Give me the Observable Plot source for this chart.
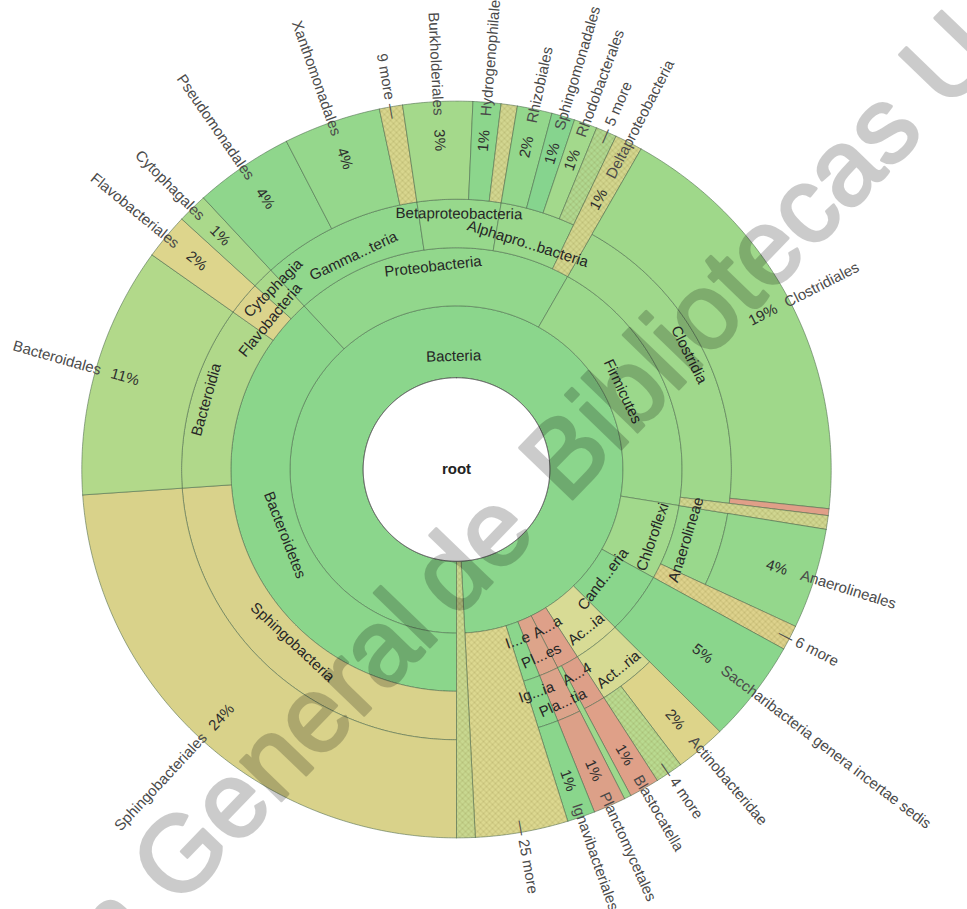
<!DOCTYPE html>
<html>
<head>
<meta charset="utf-8">
<script src="https://cdn.jsdelivr.net/npm/d3@7"></script>
<script src="https://cdn.jsdelivr.net/npm/@observablehq/plot@0.6"></script>
<style>
  html, body { margin: 0; padding: 0; background: #fff; }
  #chart svg { display: block; }
</style>
</head>
<body>
<div id="chart"></div>
<script>
// ---------- Taxonomy data (share of classified reads, %) ----------
// Phylum ring labels, in clockwise order
const phylumLabels = ["Bacteroidetes", "Proteobacteria", "Firmicutes", "Chloroflexi", "Cand...eria",
  "Ac...ia", "A...a", "Pl...es", "I...e"];

// Class ring labels and the phylum each belongs to
const classLabels = ["Sphingobacteria", "Bacteroidia", "Flavobacteria", "Cytophagia", "Gamma...teria",
  "Betaproteobacteria", "Alphapro...bacteria", "Clostridia", "Anaerolineae", "Act...ria", "A...4",
  "Pla...tia", "Ig...ia"];
const classPhylum = [0, 0, 0, 0, 1, 1, 1, 2, 3, 5, 6, 7, 8];

// Outermost wedges (orders, or collapsed groups), clockwise from the bottom
const leafLabels = ["Sphingobacteriales", "Bacteroidales", "Flavobacteriales", "Cytophagales",
  "Pseudomonadales", "Xanthomonadales", "9 more", "",
  "Burkholderiales", "Hydrogenophilales", "",
  "Rhizobiales", "Sphingomonadales", "Rhodobacterales", "5 more",
  "Deltaproteobacteria",
  "Clostridiales", "", "",
  "Anaerolineales", "6 more",
  "Saccharibacteria genera incertae sedis",
  "Actinobacteridae", "4 more",
  "Blastocatella", "",
  "Planctomycetales",
  "Ignavibacteriales",
  "25 more",
  ""];
const leafShares = [23.9, 11.0, 2.0, 1.3,
  4.3, 4.2, 1.0, 0,
  3.0, 1.2, 0.7,
  1.5, 1.0, 1.0, 0.9,
  1.2,
  18.5, 0.3, 0.6,
  4.4, 1.1,
  4.5,
  2.2, 1.2,
  1.3, 0.3,
  1.4,
  1.2,
  4.0,
  0.8];
// class index (-1: none), phylum index (-1: none), ring the wedge starts in
const leafClass = [0, 1, 2, 3, 4, 4, 4, 4, 5, 5, 5, 6, 6, 6, 6, -1, 7, 7, -1, 8, -1, -1, 9, 9, 10, -1, 11, 12, -1, -1];
const leafPhylum = [0, 0, 0, 0, 1, 1, 1, 1, 1, 1, 1, 1, 1, 1, 1, 1, 2, 2, 2, 3, 3, 4, 5, 5, 6, 6, 7, 8, -1, -1];
const leafLevel = [4, 4, 4, 4, 4, 4, 4, 4, 4, 4, 4, 4, 4, 4, 4, 3, 4, 4, 3, 4, 3, 3, 4, 4, 4, 3, 4, 4, 2, 1];

// ---------- Palette ----------
const rootFill = "#ffffff";
const bacteriaFill = "#8bd68c";
const phylumFill = ["#8bd68b", "#92d78c", "#9bd88b", "#a2d98c", "#8ad68c", "#d8db95", "#dea089", "#dda48a", "#8bd68c"];
const classFill = ["#d9d28b", "#b0d88a", "#dbd48c", "#a9d98b", "#90d78c", "#97d88c", "#9ad88c", "#9fd88b",
  "#99d88c", "#d6da93", "#dd9f88", "#dca38a", "#8bd68c"];
const leafFill = ["#d9d28a", "#b2d98a", "#ddd58c", "#aad98b",
  "#8fd68c", "#95d78c", "#d8d68e", "#d8d68e",
  "#a4d98b", "#8cd68c", "#d2d690",
  "#93d78c", "#86d48e", "#a3d98c", "#b0d890",
  "#d3d68e",
  "#9fd88a", "#e09f88", "#d0d690",
  "#94d78c", "#ddd28c",
  "#8ad68c",
  "#ddd48a", "#b9da90",
  "#dfa088", "#9ed88c",
  "#dca088",
  "#8ad68c",
  "#dcd890",
  "#c8d890"];
const leafHatched = leafLabels.map((l, i) => /more$/.test(l) || [7, 10, 15, 18].includes(i) || leafLevel[i] <= 2);

// ---------- Geometry ----------
const CX = 456, CY = 469, SX = 1.007, SY = 0.990;
const RING = [0, 92.7, 165.3, 224, 273, 372.1];
const START = 180, DEG = 3.6;
const toXY = (r, deg) => {
  const a = deg * Math.PI / 180;
  return {x: CX + SX * r * Math.sin(a), y: CY - SY * r * Math.cos(a)};
};

function sector(id, a0, a1, r0, r1, fill) {
  const pts = [];
  const n = Math.max(2, Math.ceil((a1 - a0) / 0.4));
  for (let k = 0; k <= n; k++) pts.push(toXY(r1, a0 + (a1 - a0) * k / n));
  if (r0 > 0) for (let k = n; k >= 0; k--) pts.push(toXY(r0, a0 + (a1 - a0) * k / n));
  pts.push(pts[0]);
  return pts.map(p => ({...p, id, fill}));
}

let acc = 0;
const leaves = leafLabels.map((label, i) => {
  const a0 = START + acc * DEG;
  acc += leafShares[i];
  const a1 = START + acc * DEG;
  return {i, label, share: leafShares[i], a0, a1, level: leafLevel[i], cls: leafClass[i], phy: leafPhylum[i]};
}).filter(d => d.share > 0);

const span = list => ({a0: d3.min(list, d => d.a0), a1: d3.max(list, d => d.a1)});
const classNodes = classLabels.map((label, c) => ({label, k: c, ...span(leaves.filter(d => d.cls === c))}));
const phylumNodes = phylumLabels.map((label, p) => ({label, k: p, ...span(leaves.filter(d => d.phy === p))}));
const bacteria = {label: "Bacteria", k: 0, ...span(leaves.filter(d => d.level >= 2))};

const polys = [
  ...sector("bacteria", bacteria.a0, bacteria.a1, RING[1], RING[2], bacteriaFill),
  ...phylumNodes.flatMap(n => sector("p" + n.k, n.a0, n.a1, RING[2], RING[3], phylumFill[n.k])),
  ...classNodes.flatMap(n => sector("c" + n.k, n.a0, n.a1, RING[3], RING[4], classFill[n.k])),
  ...leaves.flatMap(d => sector("l" + d.i, d.a0, d.a1, RING[d.level], RING[5], leafFill[d.i]))
];
const hatchPolys = leaves.filter(d => leafHatched[d.i])
  .flatMap(d => sector("h" + d.i, d.a0, d.a1, RING[d.level], RING[5], "url(#krona-hatch)"));
const rootPoly = sector("root", 0, 360, 0, RING[1], rootFill);

// ---------- Labels ----------
const norm = deg => ((deg % 360) + 360) % 360;
const tangentRot = deg => { const t = norm(deg); return t > 90 && t < 270 ? t - 180 : (t >= 270 ? t - 360 : t); };

function ringLabel(node, depth) {
  const mid = (node.a0 + node.a1) / 2;
  const w = RING[depth + 1] - RING[depth];
  const r = (RING[depth] + RING[depth + 1]) / 2 + (node.k % 2 === 0 ? -0.2 : 0.2) * w;
  return {...toXY(r, mid), label: node.label, rot: tangentRot(mid)};
}
const innerLabels = [
  ringLabel(bacteria, 1),
  ...phylumNodes.map(n => ringLabel(n, 2)),
  ...classNodes.map(n => ringLabel(n, 3))
];

const R = RING[5];
const nameLabels = [], pctLabels = [], moreLabels = [];
for (const d of leaves) {
  if (!d.label) continue;
  const mid = (d.a0 + d.a1) / 2;
  const t = norm(mid);
  const right = t < 180;
  const rot = right ? t - 90 : t - 270;
  if (/more$/.test(d.label)) {
    moreLabels.push({...toXY(R - 12, mid), rot, right, text: right ? "— " + d.label : d.label + " —"});
    continue;
  }
  const inset = d.share > 10 ? 5 : (d.level === 3 ? 40 : 14);
  const rn = R - inset;
  nameLabels.push({...toXY(rn, mid), rot, right, text: d.label});
  pctLabels.push({...toXY(rn - 25, mid), rot, text: Math.round(d.share) + "%"});
}

// Diagonal watermark band across the figure
const markRad = -46 * Math.PI / 180;
const markOrigin = {x: CX + 16, y: CY + 84};
const along = s => ({x: markOrigin.x + s * Math.cos(markRad), y: markOrigin.y + s * Math.sin(markRad)});
const watermark = [
  {...along(-80), text: "Dirección General", anchor: "end"},
  {...along(0), text: "de", anchor: "middle"},
  {...along(100), text: "Bibliotecas UAQ", anchor: "start"}
];

const font = "'Liberation Sans', Arial, Helvetica, sans-serif";
const edge = {stroke: "#4c684c", strokeWidth: 0.8, strokeOpacity: 0.7};

const chart = Plot.plot({
  width: 967,
  height: 909,
  margin: 0,
  x: {domain: [0, 967], range: [0, 967], axis: null},
  y: {domain: [0, 909], range: [0, 909], axis: null},
  color: {type: "identity"},
  style: {fontFamily: font, background: "#fff"},
  marks: [
    Plot.line(polys, {x: "x", y: "y", z: "id", fill: "fill", curve: "linear", ...edge}),
    Plot.line(hatchPolys, {x: "x", y: "y", z: "id", fill: "fill", stroke: "none", curve: "linear"}),
    Plot.line(rootPoly, {x: "x", y: "y", z: "id", fill: "fill", stroke: "#505050", strokeWidth: 1, curve: "linear"}),
    Plot.text(innerLabels, {x: "x", y: "y", text: "label", rotate: "rot", fontSize: 15, fill: "#262626", textAnchor: "middle"}),
    Plot.text(nameLabels.filter(d => d.right), {x: "x", y: "y", text: "text", rotate: "rot", fontSize: 15, fill: "#4a4a4a", textAnchor: "start"}),
    Plot.text(nameLabels.filter(d => !d.right), {x: "x", y: "y", text: "text", rotate: "rot", fontSize: 15, fill: "#4a4a4a", textAnchor: "end"}),
    Plot.text(pctLabels, {x: "x", y: "y", text: "text", rotate: "rot", fontSize: 15, fill: "#2e2e2e", textAnchor: "middle"}),
    Plot.text(moreLabels.filter(d => d.right), {x: "x", y: "y", text: "text", rotate: "rot", fontSize: 15, fill: "#4a4a4a", textAnchor: "start"}),
    Plot.text(moreLabels.filter(d => !d.right), {x: "x", y: "y", text: "text", rotate: "rot", fontSize: 15, fill: "#4a4a4a", textAnchor: "end"}),
    Plot.text([{x: CX, y: CY, text: "root"}], {x: "x", y: "y", text: "text", fontSize: 15, fontWeight: "bold", fill: "#222"}),
    ...["end", "middle", "start"].map(anchor =>
      Plot.text(watermark.filter(d => d.anchor === anchor), {
        x: "x", y: "y", text: "text", rotate: -46, textAnchor: anchor,
        fontSize: 107, fontWeight: "normal", fill: "#000", stroke: "#000", strokeWidth: 3,
        strokeLinejoin: "round", opacity: 0.2
      }))
  ]
});

// Cross-hatch used by collapsed wedges
const defs = document.createElementNS("http://www.w3.org/2000/svg", "defs");
defs.innerHTML = `<pattern id="krona-hatch" width="6" height="6" patternUnits="userSpaceOnUse">
  <path d="M0,0L6,6M-3,3L3,9M3,-3L9,3M6,0L0,6M-3,3L3,-3M3,9L9,3" stroke="rgba(120,110,40,0.22)" stroke-width="1" fill="none"/>
</pattern>`;
chart.insertBefore(defs, chart.firstChild);

document.getElementById("chart").appendChild(chart);
</script>
</body>
</html>
